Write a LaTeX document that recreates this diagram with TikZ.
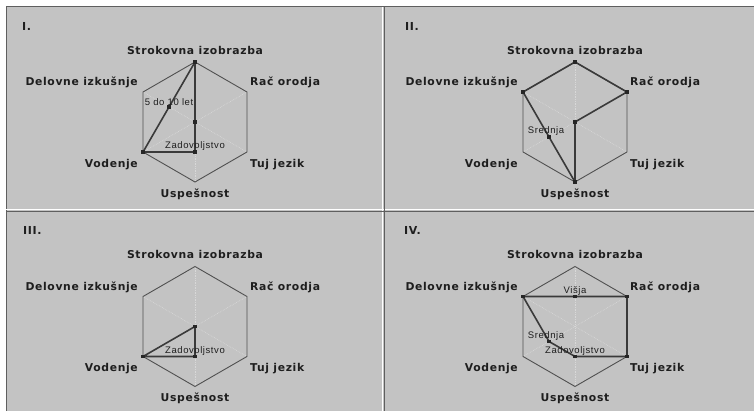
\documentclass[tikz,border=0pt]{standalone}
\usepackage{fontspec}
\setmainfont{Liberation Sans}
\newfontfamily\lblfont{DejaVu Sans}[LetterSpace=6]
\newfontfamily\valfont{Liberation Sans}[LetterSpace=6]
\usetikzlibrary{calc}
\definecolor{bggray}{RGB}{195,195,195}
\definecolor{hexcol}{RGB}{80,80,80}
\definecolor{datacol}{RGB}{58,58,58}
\definecolor{axiscol}{RGB}{216,216,216}
\definecolor{txtcol}{RGB}{30,30,30}
\definecolor{edgedark}{RGB}{95,95,95}
\tikzset{
  hexline/.style={draw=hexcol, line width=0.9pt, line join=miter},
  dataline/.style={draw=datacol, line width=1.6pt, line join=round},
  axisline/.style={draw=axiscol, line width=0.7pt, densely dotted},
  lbl/.style={font={\lblfont\bfseries\fontsize{10.8}{13}\selectfont}, text=txtcol, inner sep=0pt},
  ttl/.style={font={\lblfont\bfseries\fontsize{11}{13}\selectfont}, text=txtcol, inner sep=0pt, anchor=west},
  val/.style={font={\valfont\fontsize{9.5}{11}\selectfont}, text=txtcol, inner sep=1pt, anchor=south},
  ptdot/.style={rectangle, fill=black!85, minimum size=3.4pt, inner sep=0pt},
  darkedge/.style={draw=edgedark, line width=1pt},
  whiteedge/.style={draw=white, line width=1.6pt}
}
\newcommand{\radarpanel}[5]{%
  \begin{scope}[shift={(#2,#3)}]
    \coordinate (#1c) at (0,0);
    \coordinate (#1s) at (90:60);
    \coordinate (#1r) at (30:60);
    \coordinate (#1t) at (-30:60);
    \coordinate (#1u) at (-90:60);
    \coordinate (#1v) at (210:60);
    \coordinate (#1d) at (150:60);
    \foreach \n in {s,r,t,u,v,d}{\draw[axisline] (#1c) -- (#1\n);}
    \draw[hexline] (#1s) -- (#1r) -- (#1t) -- (#1u) -- (#1v) -- (#1d) -- cycle;
    \foreach \n in {s,r,t,u,v,d}{\coordinate (#1h\n) at ($(#1c)!0.5!(#1\n)$);}
    \node[lbl] (#1Ls) at (0,72) {Strokovna izobrazba};
    \node[lbl, anchor=east] (#1Ld) at (-57,39.5) {Delovne izkušnje};
    \node[lbl, anchor=west] (#1Lr) at (55,39.5) {Rač orodja};
    \node[lbl, anchor=east] (#1Lv) at (-57,-42.5) {Vodenje};
    \node[lbl, anchor=west] (#1Lt) at (55,-42.5) {Tuj jezik};
    \node[lbl] (#1Lu) at (0,-72) {Uspešnost};
  \end{scope}
  \node[ttl] (#1T) at (#5) {#4};
}
\begin{document}
\begin{tikzpicture}[x=1pt,y=1pt]
  \useasboundingbox (0,0) rectangle (754,411);
  \fill[white] (0,0) rectangle (754,411);
  \fill[bggray] (6,0) rectangle (754,404);
  % outer sunken edges
  \draw[darkedge] (6,0) -- (6,404) -- (754,404);
  % dividers
  \draw[whiteedge] (382.6,0) -- (382.6,404);
  \draw[whiteedge] (6,201.4) -- (754,201.4);
  \draw[darkedge] (384.8,0) -- (384.8,404);
  \draw[darkedge] (6,199.4) -- (754,199.4);
  \fill[bggray] (6.5,199.9) rectangle (382,200.6);
  \fill[bggray] (385.3,199.9) rectangle (754,200.6);

  \radarpanel{A}{195}{289}{I.}{22,385}
  \radarpanel{B}{575}{289}{II.}{405,385}
  \radarpanel{C}{195}{84.5}{III.}{23,181}
  \radarpanel{D}{575}{84.5}{IV.}{404,181}

  % Panel I data
  \draw[dataline] (As) -- (Ahd) -- (Av) -- (Ahu) -- (Ac) -- cycle;
  \foreach \p in {As,Ahd,Av,Ahu,Ac}{\node[ptdot] (dot\p) at (\p) {};}
  \node[val] (Aval1) at (Ahd) {5 do 10 let};
  \node[val] (Aval2) at (Ahu) {Zadovoljstvo};

  % Panel II data
  \draw[dataline] (Bs) -- (Br) -- (Bc) -- (Bu) -- (Bhv) -- (Bd) -- cycle;
  \foreach \p in {Bs,Br,Bc,Bu,Bhv,Bd}{\node[ptdot] (dot\p) at (\p) {};}
  \node[val] (Bval1) at ($(Bhv)+(-3,0)$) {Srednja};

  % Panel III data
  \draw[dataline] (Cc) -- (Chu) -- (Cv) -- cycle;
  \foreach \p in {Cc,Chu,Cv}{\node[ptdot] (dot\p) at (\p) {};}
  \node[val] (Cval1) at (Chu) {Zadovoljstvo};

  % Panel IV data
  \draw[dataline] (Dhs) -- (Dr) -- (Dt) -- (Dhu) -- (Dhv) -- (Dd) -- cycle;
  \foreach \p in {Dhs,Dr,Dt,Dhu,Dhv,Dd}{\node[ptdot] (dot\p) at (\p) {};}
  \node[val] (Dval1) at (Dhs) {Višja};
  \node[val] (Dval2) at (Dhu) {Zadovoljstvo};
  \node[val] (Dval3) at ($(Dhv)+(-3,0)$) {Srednja};
\end{tikzpicture}
\end{document}
